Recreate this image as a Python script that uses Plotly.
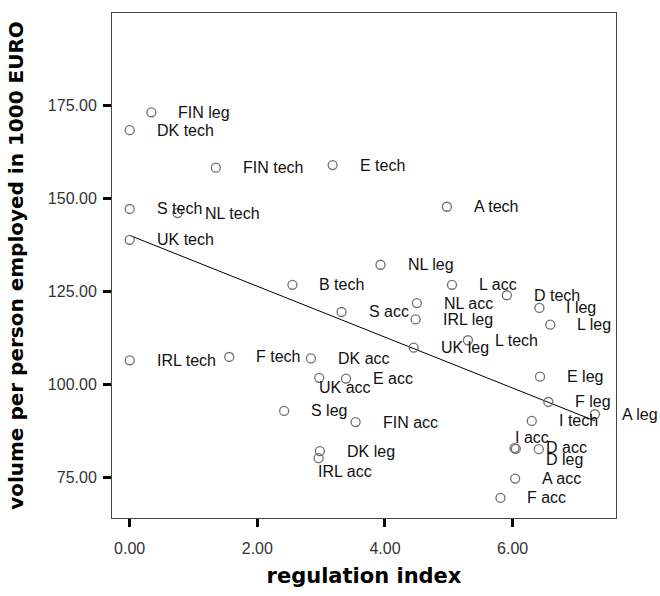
import numpy as np
import plotly.graph_objects as go

# country / policy-field labels as shown next to each point
labels = [
    "FIN leg", "DK tech", "FIN tech", "E tech", "A tech", "S tech", "NL tech",
    "UK tech", "NL leg", "B tech", "L acc", "D tech", "NL acc", "S acc",
    "IRL leg", "I leg", "L leg", "L tech", "UK leg", "IRL tech", "F tech",
    "DK acc", "UK acc", "E acc", "S leg", "FIN acc", "E leg", "F leg",
    "A leg", "I tech", "I acc", "D acc", "D leg", "A acc", "F acc",
    "DK leg", "IRL acc",
]
reg_index = [
    0.34, 0.00, 1.35, 3.18, 4.97, 0.00, 0.75,
    0.00, 3.93, 2.55, 5.05, 5.91, 4.50, 3.32,
    4.48, 6.42, 6.59, 5.30, 4.45, 0.00, 1.56,
    2.84, 2.97, 3.39, 2.42, 3.54, 6.43, 6.56,
    7.29, 6.30, 6.03, 6.05, 6.41, 6.04, 5.81,
    2.98, 2.96,
]
volume = [
    173.1, 168.3, 158.2, 158.9, 147.7, 147.1, 146.0,
    138.8, 132.1, 126.7, 126.7, 123.9, 121.8, 119.4,
    117.4, 120.5, 116.0, 111.8, 109.8, 106.4, 107.3,
    106.9, 101.7, 101.5, 92.8, 89.8, 102.0, 95.2,
    91.9, 90.1, 82.8, 82.6, 82.5, 74.6, 69.4,
    82.0, 80.1,
]
x_ticks = [0, 2, 4, 6]
y_ticks = [75, 100, 125, 150, 175]

# labels that were pushed off the usual spot to avoid overlaps (px shifts)
label_shift = {
    "I acc": (-2, 11),
    "D acc": (28, 1),
    "D leg": (5, -10),
    "IRL acc": (-3, -13),
    "UK acc": (-2, -10),
}

# linear fit line over the data range
slope, intercept = np.polyfit(reg_index, volume, 1)
fit_x = np.array([min(reg_index), max(reg_index)])
fit_y = intercept + slope * fit_x

fig = go.Figure()
fig.add_trace(go.Scatter(
    x=fit_x, y=fit_y, mode="lines",
    line=dict(color="black", width=1),
    hoverinfo="skip", showlegend=False,
))
fig.add_trace(go.Scatter(
    x=reg_index, y=volume, mode="markers", text=labels,
    marker=dict(symbol="circle-open", size=9, color="#707070", line=dict(width=1.3)),
    showlegend=False, cliponaxis=False,
))

for lab, xv, yv in zip(labels, reg_index, volume):
    dx, dy = label_shift.get(lab, (25, 0))
    fig.add_annotation(
        x=xv, y=yv, text=lab, showarrow=False,
        xanchor="left", yanchor="middle", xshift=dx, yshift=dy,
        font=dict(family="Liberation Sans, Arial, sans-serif", size=16, color="#111"),
    )

axis_common = dict(
    showline=True, linecolor="#444", linewidth=1, mirror=True,
    showgrid=False, zeroline=False,
    ticks="outside", ticklen=8, tickwidth=3, tickcolor="black",
    tickformat=".2f",
    tickfont=dict(family="Liberation Sans, Arial, sans-serif", size=16, color="#333"),
)

fig.update_layout(
    width=660, height=596,
    margin=dict(l=112, r=44, t=12, b=77),
    paper_bgcolor="white", plot_bgcolor="white",
    xaxis=dict(
        axis_common, range=[-0.277, 7.62], tickvals=x_ticks, ticklabelstandoff=8,
        title=dict(text="<b>regulation index</b>", standoff=12,
                   font=dict(family="DejaVu Sans, sans-serif", size=21, color="black")),
    ),
    yaxis=dict(
        axis_common, range=[64.0, 199.8], tickvals=y_ticks, ticklabelstandoff=3,
        title=dict(text="<b>volume per person employed in 1000 EURO</b>", standoff=18,
                   font=dict(family="DejaVu Sans, sans-serif", size=20, color="black")),
    ),
)

# drop the browser's default page margin so the chart sits at the corner
fig.write_html("out.html", config={"displayModeBar": False},
               post_script="document.body.style.margin='0';")
